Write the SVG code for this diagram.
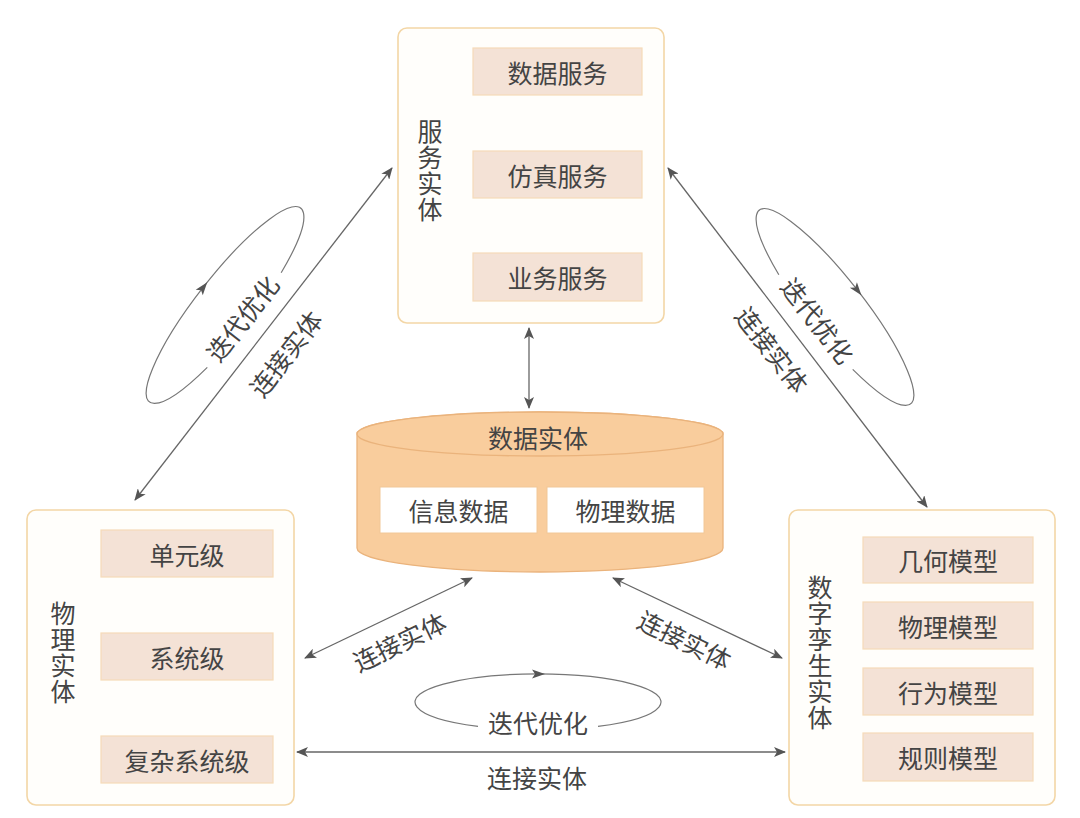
<svg xmlns="http://www.w3.org/2000/svg" width="1080" height="818" viewBox="0 0 1080 818">
<defs>
<style>
text{font-family:"Noto Sans CJK SC","Noto Sans",sans-serif;fill:#444;font-size:25px;text-anchor:middle;dominant-baseline:central}
.vert{writing-mode:vertical-rl;letter-spacing:1px}
.outer{fill:#fffefb;stroke:#f3d6a6;stroke-width:1.6}
.inner{fill:#f4e2d6;stroke:#f6dab8;stroke-width:1.2}
.white{fill:#ffffff;stroke:#f2c898;stroke-width:1}
.cyl{fill:#f9cd9d;stroke:#eab37c;stroke-width:1.3}
.conn{fill:none;stroke:#666;stroke-width:1.3}
.loop{fill:none;stroke:#777;stroke-width:1.2}
.ah{fill:#555}
</style>
<marker id="arr" viewBox="0 0 12 10" refX="11" refY="5" markerWidth="12" markerHeight="10" markerUnits="userSpaceOnUse" orient="auto-start-reverse">
<path d="M0,0 L12,5 L0,10 L3,5 z" fill="#555"/>
</marker>
</defs>
<rect width="1080" height="818" fill="#ffffff"/>

<g id="connectors">
<line class="conn" x1="135" y1="500" x2="392" y2="168" marker-start="url(#arr)" marker-end="url(#arr)"/>
<line class="conn" x1="668" y1="168" x2="927" y2="507" marker-start="url(#arr)" marker-end="url(#arr)"/>
<line class="conn" x1="529" y1="328" x2="529" y2="408" marker-start="url(#arr)" marker-end="url(#arr)"/>
<line class="conn" x1="305" y1="658" x2="472" y2="578" marker-start="url(#arr)" marker-end="url(#arr)"/>
<line class="conn" x1="613" y1="578" x2="782" y2="658" marker-start="url(#arr)" marker-end="url(#arr)"/>
<line class="conn" x1="297" y1="752" x2="785" y2="752" marker-start="url(#arr)" marker-end="url(#arr)"/>
<text transform="translate(285,353) rotate(-52)">连接实体</text>
<text transform="translate(773,349) rotate(52)">连接实体</text>
<text transform="translate(399,641) rotate(-26)">连接实体</text>
<text transform="translate(685,639) rotate(26)">连接实体</text>
<text x="537" y="777">连接实体</text>
</g>

<g id="loop-left" transform="translate(225,305) rotate(-52)">
<path class="loop" d="M-60,24.4 A123,28 0 1 1 60,24.4"/>
<polygon class="ah" points="7,-28 -6,-32.5 -3,-28 -6,-23.5"/>
<text x="0" y="21">迭代优化</text>
</g>
<g id="loop-right" transform="translate(835,307) rotate(52)">
<path class="loop" d="M-60,24.4 A123,28 0 1 1 60,24.4"/>
<polygon class="ah" points="7,-28 -6,-32.5 -3,-28 -6,-23.5"/>
<text x="0" y="21">迭代优化</text>
</g>
<g id="loop-bottom" transform="translate(538,702)">
<path class="loop" d="M-60,24.4 A123,28 0 1 1 60,24.4"/>
<polygon class="ah" points="7,-28 -6,-32.5 -3,-28 -6,-23.5"/>
<text x="0" y="20">迭代优化</text>
</g>

<g id="service-entity">
<rect class="outer" x="398" y="28" width="266" height="295" rx="9"/>
<text class="vert" x="430" y="171">服务实体</text>
<rect class="inner" x="473" y="48" width="169" height="47"/>
<text x="557.5" y="71.5">数据服务</text>
<rect class="inner" x="473" y="151" width="169" height="47"/>
<text x="557.5" y="174.5">仿真服务</text>
<rect class="inner" x="473" y="253" width="169" height="48"/>
<text x="557.5" y="277">业务服务</text>
</g>

<g id="data-entity">
<path class="cyl" d="M357,434 L357,548 A183,24 0 0 0 723,548 L723,434 A183,22 0 0 0 357,434 Z"/>
<ellipse class="cyl" cx="540" cy="434" rx="183" ry="22"/>
<text x="538" y="437">数据实体</text>
<rect class="white" x="380" y="487" width="157" height="46"/>
<text x="458.5" y="510">信息数据</text>
<rect class="white" x="547" y="487" width="157" height="46"/>
<text x="625.5" y="510">物理数据</text>
</g>

<g id="physical-entity">
<rect class="outer" x="27" y="510" width="267" height="295" rx="9"/>
<text class="vert" x="63" y="652.5">物理实体</text>
<rect class="inner" x="101" y="530" width="172" height="47"/>
<text x="187" y="553.5">单元级</text>
<rect class="inner" x="101" y="633" width="172" height="47"/>
<text x="187" y="656.5">系统级</text>
<rect class="inner" x="101" y="736" width="172" height="47"/>
<text x="187" y="759.5">复杂系统级</text>
</g>

<g id="twin-entity">
<rect class="outer" x="789" y="510" width="266" height="295" rx="9"/>
<text class="vert" x="820" y="652.5">数字孪生实体</text>
<rect class="inner" x="863" y="537" width="170" height="46"/>
<text x="948" y="560">几何模型</text>
<rect class="inner" x="863" y="602" width="170" height="47"/>
<text x="948" y="625.5">物理模型</text>
<rect class="inner" x="863" y="668" width="170" height="47"/>
<text x="948" y="691.5">行为模型</text>
<rect class="inner" x="863" y="733" width="170" height="48"/>
<text x="948" y="757">规则模型</text>
</g>
</svg>
